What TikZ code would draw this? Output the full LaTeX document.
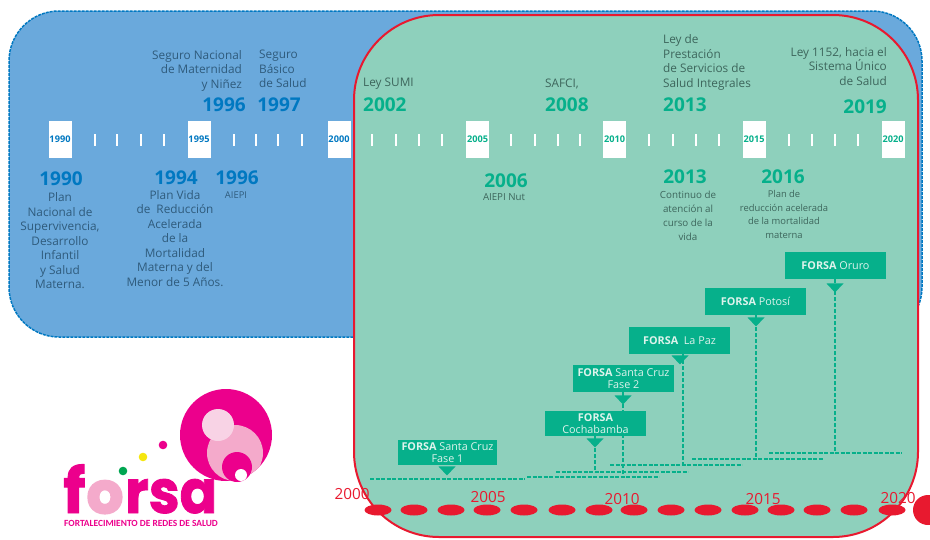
\documentclass[tikz,border=0pt]{standalone}
\usepackage{fontspec}
\setmainfont{Open Sans}
\newfontfamily\logofont[BoldFeatures={FakeBold=1.5}]{Poppins}
\newfontfamily\logoheavy[BoldFeatures={FakeBold=4}]{Poppins}
\newfontfamily\logosub{Carlito}
\usetikzlibrary{shapes.geometric, positioning, calc}
\definecolor{bluefill}{HTML}{6AA9DC}
\definecolor{blueline}{HTML}{0078C1}
\definecolor{greenfill}{HTML}{8ED0BC}
\definecolor{greendark}{HTML}{06B08B}
\definecolor{redline}{HTML}{E8192F}
\definecolor{bluetext}{HTML}{2F5B7C}
\definecolor{greentext}{HTML}{3D665C}
\definecolor{boxtext}{HTML}{DDF3EC}
\definecolor{logopink}{HTML}{EC008C}
\definecolor{logolight}{HTML}{F4AACB}
\definecolor{logopale}{HTML}{F8D3E5}
\definecolor{logoyellow}{HTML}{F5E60F}
\definecolor{logogreen}{HTML}{00A651}
\tikzstyle{yearbox} = [rectangle, fill=white, inner sep=0pt, minimum width=23pt, minimum height=37pt, font=\fontsize{9.2}{10}\bfseries\selectfont]
\tikzstyle{tick} = [white, line width=2.4pt]
\tikzstyle{bigyear} = [inner sep=0pt, font=\fontsize{19}{20}\bfseries\selectfont]
\tikzstyle{label} = [inner sep=0pt, font=\fontsize{11.8}{14.5}\selectfont]
\tikzstyle{smalllabel} = [inner sep=0pt, align=center, font=\fontsize{9.8}{14}\selectfont]
\tikzstyle{forsabox} = [rectangle, fill=greendark, text=boxtext, inner sep=0pt, minimum width=101pt, align=center, font=\fontsize{10.8}{12.3}\selectfont]
\tikzstyle{flag} = [isosceles triangle, isosceles triangle stretches, shape border rotate=-90, fill=greendark, inner sep=0pt, minimum height=9pt, minimum width=17pt]
\tikzstyle{stem} = [greendark, line width=1.8pt, dash pattern=on 4pt off 2pt]
\tikzstyle{baseline} = [greendark, line width=1.4pt, dash pattern=on 4pt off 1.5pt]
\tikzstyle{bead} = [ellipse, fill=redline, inner sep=0pt, minimum width=27pt, minimum height=11pt]
\tikzstyle{redyear} = [inner sep=0pt, text=redline, font=\fontsize{15.3}{16}\selectfont]

\begin{document}
\begin{tikzpicture}[x=1pt, y=-1pt]
	\useasboundingbox (0,0) rectangle (930,539);

	% Panels
	\draw[fill=bluefill, draw=blueline, line width=1.5pt, dash pattern=on 3pt off 1pt, rounded corners=50pt] (9,11) rectangle (922,337);
	\draw[fill=greenfill, draw=redline, line width=2pt, rounded corners=85pt] (354,15) rectangle (918,537);

	% Timeline
	\foreach \x/\yr in {60/1990, 199/1995, 339/2000}
		\node (box\yr) [yearbox, text=blueline] at (\x,139.5) {\yr};
	\foreach \x/\yr in {477.5/2005, 614.5/2010, 754/2015, 893/2020}
		\node (box\yr) [yearbox, text=greendark] at (\x,139.5) {\yr};
	\foreach \x in {95,117,141,164,234,256,278,302,372,396,419,442,511,535,558,580,649,673,696,719,789,812,835,858}
		\draw[tick] (\x,134) -- (\x,146);

	% Blue side, above
	\node (segnac) [label, text=bluetext, align=right, anchor=north east] at (242,50) {Seguro Nacional\\de Maternidad\\y Niñez};
	\node (segbas) [label, text=bluetext, align=left, anchor=north west] at (259,50) {Seguro\\Básico\\de Salud};
	\node (y1996a) [bigyear, text=blueline] at (224,104.5) {1996};
	\node (y1997) [bigyear, text=blueline] at (279,104.5) {1997};

	% Blue side, below
	\node (y1990) [bigyear, text=blueline] at (61,178.5) {1990};
	\node (y1994) [bigyear, text=blueline] at (176,177.5) {1994};
	\node (y1996b) [bigyear, text=blueline] at (237,177.5) {1996};
	\node (plan90) [label, text=bluetext, align=center, anchor=north] at (60,192.5) {Plan\\Nacional de\\Supervivencia,\\Desarrollo\\Infantil\\y Salud\\Materna.};
	\node (plan94) [label, text=bluetext, align=center, anchor=north] at (175,190) {Plan Vida\\de~~Reducción\\Acelerada\\de la\\Mortalidad\\Materna y del\\Menor de 5 Años.};
	\node (aiepi) [inner sep=0pt, text=bluetext, font=\fontsize{9.4}{10}\selectfont] at (236,195) {AIEPI};

	% Green side, above
	\node (sumi) [label, text=greentext, anchor=west] at (363,83.5) {Ley SUMI};
	\node (y2002) [bigyear, text=greendark, anchor=west] at (363,104.5) {2002};
	\node (safci) [label, text=greentext, anchor=west] at (545,83.5) {SAFCI,};
	\node (y2008) [bigyear, text=greendark, anchor=west] at (545,104.5) {2008};
	\node (prest) [label, text=greentext, align=left, anchor=north west] at (663,34.5) {Ley de\\Prestación\\de Servicios de\\Salud Integrales};
	\node (y2013a) [bigyear, text=greendark, anchor=west] at (663,104.5) {2013};
	\node (ley1152) [label, text=greentext, align=right, anchor=north east] at (887,47) {Ley 1152, hacia el\\Sistema Único\\de Salud};
	\node (y2019) [bigyear, text=greendark, anchor=east] at (887,106.5) {2019};

	% Green side, below
	\node (y2006) [bigyear, text=greendark] at (506,180.5) {2006};
	\node (nut) [inner sep=0pt, text=greentext, font=\fontsize{9.7}{10}\selectfont] at (504,197) {AIEPI Nut};
	\node (y2013b) [bigyear, text=greendark] at (685,176.5) {2013};
	\node (continuo) [smalllabel, text=greentext, anchor=north] at (688,190.5) {Continuo de\\atención al\\curso de la\\vida};
	\node (y2016) [bigyear, text=greendark] at (783,176.5) {2016};
	\node (reduccion) [smalllabel, text=greentext, anchor=north, font=\fontsize{9.4}{13.4}\selectfont] at (784,190.5) {Plan de\\reducción acelerada\\de la mortalidad\\materna};

	% Base lines of the stems
	\coordinate (base1a) at (370,479);
	\coordinate (base1b) at (525,479);
	\coordinate (base2a) at (527,477);
	\coordinate (base2b) at (659,477);
	\coordinate (base3a) at (556,472);
	\coordinate (base3b) at (688,472);
	\coordinate (base4a) at (610,465);
	\coordinate (base4b) at (742,465);
	\coordinate (base5a) at (692,459);
	\coordinate (base5b) at (823,459);
	\coordinate (base6a) at (769,453);
	\coordinate (base6b) at (902,453);
	\foreach \n in {1,...,6}
		\draw[baseline] (base\n a) -- (base\n b);

	% FORSA boxes
	\node (oruro) [forsabox, minimum height=27pt] at (835.5,265.5) {\textbf{FORSA} Oruro};
	\coordinate (orurostem) at (835,279);
	\draw[stem] (orurostem) -- (orurostem |- base6a);
	\node (oruroflag) [flag, anchor=apex] at (835,293) {};
	\node (potosi) [forsabox, minimum height=27pt] at (755.5,301.5) {\textbf{FORSA} Potosí};
	\coordinate (potosistem) at (756,315);
	\draw[stem] (potosistem) -- (potosistem |- base5a);
	\node (potosiflag) [flag, anchor=apex] at (756,327) {};
	\node (lapaz) [forsabox, minimum height=27pt] at (679.5,340.5) {\textbf{FORSA}~~La Paz};
	\coordinate (lapazstem) at (683,354);
	\draw[stem] (lapazstem) -- (lapazstem |- base4a);
	\node (lapazflag) [flag, anchor=apex] at (680,365) {};
	\node (fase2) [forsabox, minimum height=27pt] at (623.5,378.5) {\textbf{FORSA} Santa Cruz\\Fase 2};
	\coordinate (fase2stem) at (623,392);
	\draw[stem] (fase2stem) -- (fase2stem |- base2a);
	\node (fase2flag) [flag, anchor=apex] at (623,405) {};
	\node (cocha) [forsabox, minimum height=25pt] at (595.5,423.5) {\textbf{FORSA}\\Cochabamba};
	\coordinate (cochastem) at (595,436);
	\draw[stem] (cochastem) -- (cochastem |- base3a);
	\node (cochaflag) [flag, anchor=apex] at (595,448) {};
	\node (fase1) [forsabox, minimum width=99pt, minimum height=25pt] at (447.5,452.5) {\textbf{FORSA} Santa Cruz\\Fase 1};
	\node (fase1flag) [flag, anchor=apex] at (447,476) {};

	% Red time line
	\foreach \x in {378,414,451,487,524,562,599,634,671,708,745,781,817,854,892}
		\node (bead\x) [bead] at (\x,510) {};
	\node (end) [circle, fill=redline, inner sep=0pt, minimum size=30pt] at (928,510) {};
	\foreach \x/\y/\yr in {352/494/2000, 488/497/2005, 622/499/2010, 763/499/2015, 898/498/2020}
		\node (red\yr) [redyear] at (\x,\y) {\yr};

	% Logo
	\fill[logopink] (226,435) circle (46);
	\begin{scope}
		\clip (226,435) circle (46);
		\fill[logolight] (235,453) circle (28);
	\end{scope}
	\fill[logopale] (218,425) circle (16);
	\fill[logopink] (237,467) circle (15);
	\fill[white] (241,475) circle (6);
	\fill[logopink] (163,445) circle (4.3);
	\fill[logoyellow] (143,457) circle (4.3);
	\fill[logogreen] (123,471) circle (4.3);
	\node (logof) [inner sep=0pt, anchor=base west, text=logopink, font=\logofont\fontsize{62}{62}\bfseries\selectfont] at (63,513) {f};
	\node (logoo) [inner sep=0pt, anchor=base, text=logolight, font=\logoheavy\fontsize{57}{57}\bfseries\selectfont] at (105,513) {o};
	\node (logorsa) [inner sep=0pt, anchor=base west, text=logopink, font=\logofont\fontsize{60}{60}\bfseries\selectfont] at (125,513) {\scalebox{0.92}[1]{rsa}};
	\node (logosub) [inner sep=0pt, anchor=west, text=logopink, font=\logosub\fontsize{9.4}{10}\bfseries\selectfont] at (64,523.5) {FORTALECIMIENTO DE REDES DE SALUD};
\end{tikzpicture}
\end{document}
